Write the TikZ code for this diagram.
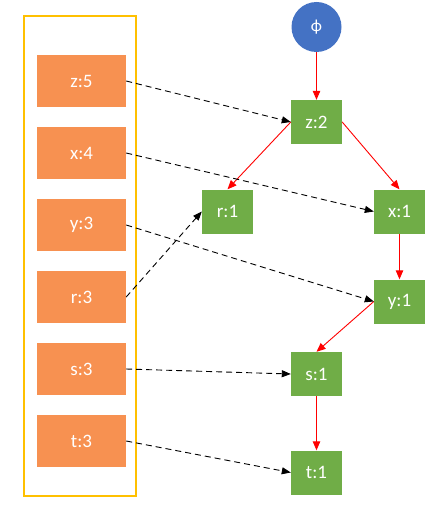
\documentclass[tikz,border=0pt]{standalone}
\usepackage{fontspec}
\setmainfont{Carlito}
\usetikzlibrary{arrows.meta}
\definecolor{ygold}{HTML}{FFC000}
\definecolor{orng}{HTML}{F79151}
\definecolor{grn}{HTML}{70AD47}
\definecolor{blu}{HTML}{4472C4}
\definecolor{redl}{HTML}{FF0000}
\tikzset{
  obox/.style={fill=orng, minimum width=89pt, minimum height=52pt, inner sep=0pt, text=white, font=\fontsize{19}{19}\selectfont},
  gbox/.style={fill=grn, minimum width=51pt, minimum height=44pt, inner sep=0pt, text=white, font=\fontsize{19}{19}\selectfont},
  dashar/.style={draw=black, line width=0.9pt, dash pattern=on 6pt off 4pt, -{Triangle[length=9pt,width=7pt]}},
  redar/.style={draw=redl, line width=0.9pt, -{Triangle[length=9pt,width=7.5pt]}},
}
\begin{document}
\begin{tikzpicture}[x=1pt,y=-1pt]
\useasboundingbox (0,0) rectangle (447,508);
\draw[ygold, line width=2.4pt] (24,16) rectangle (136,496);
\node[obox] (z5) at (81.5,81) {z:5};
\node[obox] (x4) at (81.5,153) {x:4};
\node[obox] (y3) at (81.5,225) {y:3};
\node[obox] (r3) at (81.5,297) {r:3};
\node[obox] (s3) at (81.5,369) {s:3};
\node[obox] (t3) at (81.5,441) {t:3};
\node[circle, fill=blu, minimum size=50pt, inner sep=0pt, text=white, font=\fontsize{17}{17}\selectfont] (phi) at (316.5,27) {ϕ};
\node[gbox] (z2) at (316.5,122) {z:2};
\node[gbox] (r1) at (227.5,211.5) {r:1};
\node[gbox] (x1) at (399.5,211.5) {x:1};
\node[gbox] (y1) at (399.5,301.5) {y:1};
\node[gbox] (s1) at (316.5,374) {s:1};
\node[gbox] (t1) at (316.5,472.5) {t:1};
\draw[redar] (phi) -- (z2);
\draw[redar] (z2.west) -- (r1.north);
\draw[redar] (z2.east) -- (x1.north);
\draw[redar] (x1) -- (y1);
\draw[redar] (y1.west) -- (s1.north);
\draw[redar] (s1) -- (t1);
\draw[dashar] (z5.east) -- (z2.west);
\draw[dashar] (x4.east) -- (x1.west);
\draw[dashar] (y3.east) -- (y1.west);
\draw[dashar] (r3.east) -- (r1.west);
\draw[dashar] (s3.east) -- (s1.west);
\draw[dashar] (t3.east) -- (t1.west);
\end{tikzpicture}
\end{document}
